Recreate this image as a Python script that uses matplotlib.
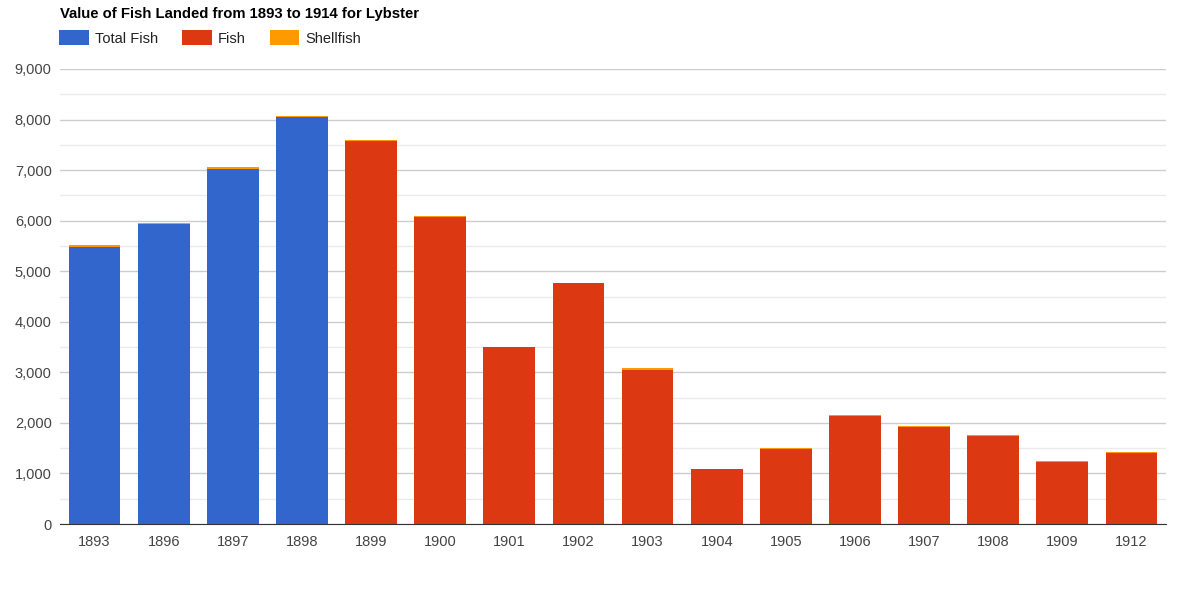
import matplotlib
matplotlib.use("Agg")
import matplotlib.pyplot as plt
import numpy as np
from matplotlib.ticker import MultipleLocator, FuncFormatter

plt.rcParams['font.family'] = ['Liberation Sans', 'DejaVu Sans']

years = ["1893", "1896", "1897", "1898", "1899", "1900", "1901", "1902",
         "1903", "1904", "1905", "1906", "1907", "1908", "1909", "1912"]
total_fish = [5480, 5940, 7030, 8050, 0, 0, 0, 0, 0, 0, 0, 0, 0, 0, 0, 0]
fish = [0, 0, 0, 0, 7580, 6070, 3500, 4760, 3040, 1080, 1480, 2140, 1920, 1750, 1235, 1400]
shellfish = [30, 20, 25, 25, 25, 15, 10, 15, 45, 10, 20, 20, 25, 15, 10, 15]

c_total = "#3366cc"
c_fish = "#dc3912"
c_shell = "#ff9900"

fig = plt.figure(figsize=(11.91, 6.0), dpi=100)
ax = fig.add_axes([60/1191, 76/600, 1106/1191, 455/600])

x = np.arange(len(years))
w = 0.75
base = np.array(total_fish) + np.array(fish)
b1 = ax.bar(x, total_fish, width=w, color=c_total, label="Total Fish", zorder=3)
b2 = ax.bar(x, fish, width=w, bottom=total_fish, color=c_fish, label="Fish", zorder=3)
b3 = ax.bar(x, shellfish, width=w, bottom=base, color=c_shell, label="Shellfish", zorder=3)

ax.set_xlim(-0.5, len(years) - 0.5)
ax.set_ylim(0, 9000)
ax.yaxis.set_major_locator(MultipleLocator(1000))
ax.yaxis.set_minor_locator(MultipleLocator(500))
ax.yaxis.set_major_formatter(FuncFormatter(lambda v, p: f"{int(v):,}"))
ax.grid(which='major', axis='y', color='#cccccc', linewidth=1, zorder=0)
ax.grid(which='minor', axis='y', color='#ebebeb', linewidth=1, zorder=0)
ax.set_xticks(x)
ax.set_xticklabels(years)
for s in ['top', 'right', 'left']:
    ax.spines[s].set_visible(False)
ax.spines['bottom'].set_color('#333333')
ax.spines['bottom'].set_zorder(4)
ax.tick_params(axis='both', which='both', length=0, labelcolor='#444444', labelsize=10.5)
ax.tick_params(axis='x', pad=8)
ax.tick_params(axis='y', pad=6)

fig.text(60/1191, 1 - 14/600, "Value of Fish Landed from 1893 to 1914 for Lybster",
         fontsize=10.7, fontweight='bold', va='center', ha='left', color='#000000')

fig.legend(handles=[b1, b2, b3], labels=["Total Fish", "Fish", "Shellfish"],
           loc='center left', bbox_to_anchor=(59/1191, 1 - 38/600), ncol=3,
           frameon=False, fontsize=10.5, handlelength=2.05, handleheight=1.15,
           handletextpad=0.4, columnspacing=1.65, borderpad=0, borderaxespad=0,
           labelcolor='#222222')

fig.savefig("out.png", dpi=100)
